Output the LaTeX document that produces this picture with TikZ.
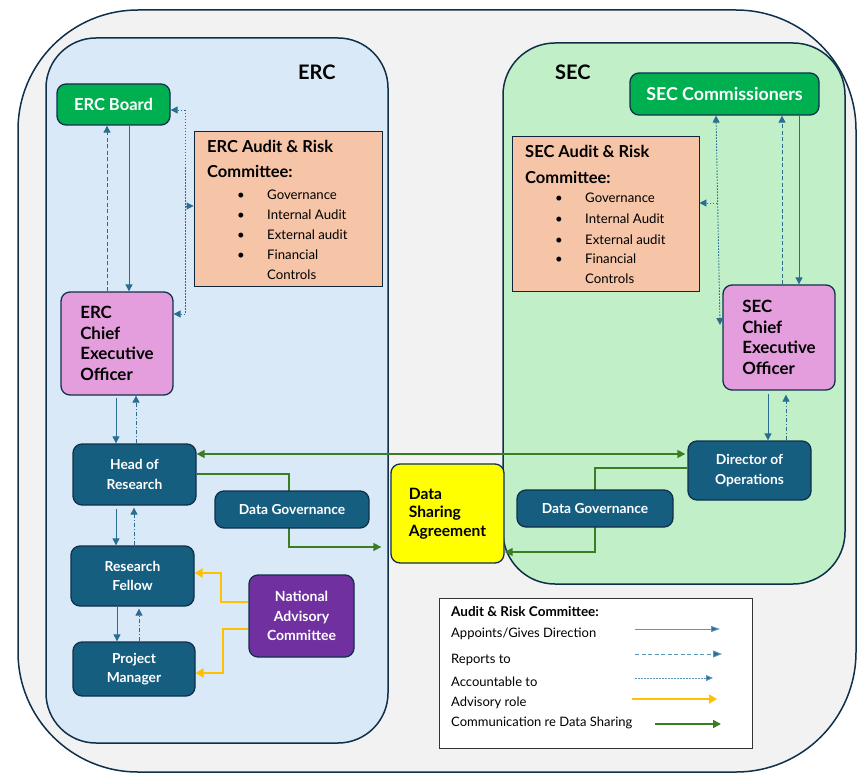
\documentclass[tikz,border=0pt]{standalone}
\usepackage{fontspec}
\setmainfont{Lato}
\usetikzlibrary{arrows.meta,calc}
\definecolor{bggray}{HTML}{F2F2F2}
\definecolor{outl}{HTML}{10304A}
\definecolor{ercfill}{HTML}{DAE9F7}
\definecolor{secfill}{HTML}{C1F0C8}
\definecolor{boardg}{HTML}{00B050}
\definecolor{salmon}{HTML}{F6C5A8}
\definecolor{pinkc}{HTML}{E59EDD}
\definecolor{tealc}{HTML}{165E80}
\definecolor{purplec}{HTML}{7030A0}
\definecolor{yellowc}{HTML}{FFFF00}
\definecolor{arrowc}{HTML}{2A6D90}
\definecolor{legarrow}{HTML}{5B98B8}
\definecolor{greenc}{HTML}{3B7D23}
\definecolor{orangec}{HTML}{FFC000}
\newcommand\myfs[2]{\fontsize{#1}{#2}\selectfont}
\pgfdeclarelayer{bg}
\pgfdeclarelayer{mid}
\pgfsetlayers{bg,mid,main}
\begin{document}
\begin{tikzpicture}[x=1pt,y=-1pt,
  orgbox/.style={draw=outl, line width=1.3pt, rounded corners=9pt, inner sep=0pt},
  tealbox/.style={orgbox, fill=tealc, text=white, font=\myfs{13.8}{19.5}\bfseries, align=center},
  ceobox/.style={orgbox, fill=pinkc, text=black, font=\myfs{16.9}{20.7}\bfseries, align=left},
  auditbox/.style={draw=outl!80!black, line width=0.9pt, fill=salmon, inner sep=0pt},
  lbl/.style={anchor=base west, inner sep=0pt},
  atitle/.style={lbl, font=\myfs{16.5}{18}\bfseries},
  aitem/.style={lbl, font=\myfs{13.2}{14}},
  legtext/.style={lbl, font=\myfs{13}{14}},
  tip/.style={-{Triangle[length=7pt,width=7pt]}},
  appoint/.style={draw=arrowc, line width=0.9pt, tip},
  report/.style={appoint, dash pattern=on 4pt off 2.5pt},
  reportdd/.style={appoint, dash pattern=on 4pt off 2pt on 1pt off 2pt},
  account/.style={appoint, dash pattern=on 1.5pt off 1.5pt},
  accline/.style={draw=arrowc, line width=0.9pt, dash pattern=on 1.5pt off 1.5pt},
  advis/.style={draw=orangec, line width=2.2pt, -{Triangle[length=8pt,width=9pt]}},
  comm/.style={draw=greenc, line width=1.5pt, -{Triangle[length=8pt,width=8pt]}},
  commline/.style={draw=greenc, line width=1.5pt}
]
\useasboundingbox (0,0) rectangle (857,773);
\begin{pgfonlayer}{bg}
\fill[white] (0,0) rectangle (857,773);
\draw[fill=bggray, draw=outl, line width=1.5pt, rounded corners=120pt] (18,10) rectangle (856,772);
\draw[fill=ercfill, draw=outl, line width=1.5pt, rounded corners=50pt] (46,38) rectangle (388,743);
\draw[fill=secfill, draw=outl, line width=1.5pt, rounded corners=52pt] (503,43) rectangle (845,584);
\end{pgfonlayer}

% container labels
\node[lbl, font=\myfs{20}{22}\bfseries] (ERClbl) at (298,80) {ERC};
\node[lbl, font=\myfs{20}{22}\bfseries] (SEClbl) at (555,80) {SEC};

% ERC side
\node[orgbox, fill=boardg, text=white, font=\myfs{16.5}{18}\bfseries, minimum width=113pt, minimum height=41pt] (ERCBoard) at (113.5,104.5) {ERC Board};
\node[auditbox, minimum width=188pt, minimum height=155pt] (ERCAudit) at (288,208.5) {};
\node[atitle] (ERCat1) at (207,153) {ERC Audit \& Risk};
\node[atitle] (ERCat2) at (207,178) {Committee:};
\node[aitem] (ERCb1) at (237,199) {\textbullet};
\node[aitem] (ERCb2) at (237,219) {\textbullet};
\node[aitem] (ERCb3) at (237,239) {\textbullet};
\node[aitem] (ERCb4) at (237,259) {\textbullet};
\node[aitem] (ERCi1) at (267,199) {Governance};
\node[aitem] (ERCi2) at (267,219) {Internal Audit};
\node[aitem] (ERCi3) at (267,239) {External audit};
\node[aitem] (ERCi4) at (267,259) {Financial};
\node[aitem] (ERCi5) at (267,279) {Controls};
\node[ceobox, minimum width=112pt, minimum height=103pt] (ERCCEO) at (117,343.5) {ERC\\Chief\\Executive\\Officer};
\node[tealbox, minimum width=123pt, minimum height=61pt] (HoR) at (134.5,474.5) {Head of\\Research};
\node[tealbox, minimum width=123pt, minimum height=60pt] (RF) at (132.5,576) {Research\\Fellow};
\node[tealbox, minimum width=122pt, minimum height=54pt] (PM) at (134,669) {Project\\Manager};
\node[orgbox, fill=purplec, text=white, font=\myfs{14}{19.5}\bfseries, align=center, minimum width=105pt, minimum height=82pt] (NAC) at (301.5,616) {National\\Advisory\\Committee};
\node[tealbox, minimum width=154pt, minimum height=37pt] (ERCDG) at (292,509.5) {Data Governance};

% centre
\node[orgbox, fill=yellowc, text=black, font=\myfs{15.6}{18.5}\bfseries, align=left, minimum width=113pt, minimum height=99pt] (DSA) at (447.5,513.5) {Data\\Sharing\\Agreement};

% SEC side
\node[orgbox, fill=boardg, text=white, font=\myfs{17.8}{18}\bfseries, minimum width=189pt, minimum height=42pt] (SECComm) at (724.5,94) {SEC Commissioners};
\node[auditbox, minimum width=187pt, minimum height=155pt] (SECAudit) at (605.5,213.5) {};
\node[atitle] (SECat1) at (525,158) {SEC Audit \& Risk};
\node[atitle] (SECat2) at (525,183) {Committee:};
\node[aitem] (SECb1) at (555,203) {\textbullet};
\node[aitem] (SECb2) at (555,223) {\textbullet};
\node[aitem] (SECb3) at (555,244) {\textbullet};
\node[aitem] (SECb4) at (555,263) {\textbullet};
\node[aitem] (SECi1) at (585,203) {Governance};
\node[aitem] (SECi2) at (585,223) {Internal Audit};
\node[aitem] (SECi3) at (585,244) {External audit};
\node[aitem] (SECi4) at (585,263) {Financial};
\node[aitem] (SECi5) at (585,283) {Controls};
\node[ceobox, minimum width=112pt, minimum height=105pt] (SECCEO) at (779,337.5) {SEC\\Chief\\Executive\\Officer};
\node[tealbox, minimum width=123pt, minimum height=59pt] (DirOps) at (749.5,470.5) {Director of\\Operations};
\node[tealbox, minimum width=156pt, minimum height=37pt] (SECDG) at (595,508.5) {Data Governance};

% ERC arrows
\draw[appoint] (129,0 |- ERCBoard.south) -- (129,0 |- ERCCEO.north);
\draw[report] (107,0 |- ERCCEO.north) -- (107,0 |- ERCBoard.south);
\coordinate (ea1) at (185,110);
\coordinate (ea2) at (185,206);
\coordinate (ea3) at (185,314);
\draw[accline] (ea1) -- (ea3);
\draw[account] (ea1) -- (ERCBoard.east |- ea1);
\draw[account] (ea2) -- (ERCAudit.west |- ea2);
\draw[account] (ea3) -- (ERCCEO.east |- ea3);
\draw[appoint] ([yshift=-2pt]116,0 |- ERCCEO.south) -- (116,0 |- HoR.north);
\draw[reportdd] (136,0 |- HoR.north) -- (136,0 |- ERCCEO.south);
\draw[appoint] ([yshift=-3pt]116,0 |- HoR.south) -- (116,0 |- RF.north);
\draw[reportdd] (134,0 |- RF.north) -- ([yshift=-2pt]134,0 |- HoR.south);
\draw[appoint] (117,0 |- RF.south) -- (117,0 |- PM.north);
\draw[reportdd] (139,0 |- PM.north) -- ([yshift=-2pt]139,0 |- RF.south);

% advisory
\draw[advis] (NAC.west |- 0,602) -- (221,602) -- (221,573) -- (RF.east |- 0,573);
\draw[advis] (NAC.west |- 0,629) -- (223,629) -- (223,673) -- (PM.east |- 0,673);

% SEC arrows
\draw[appoint] (799,0 |- SECComm.south) -- (799,0 |- SECCEO.north);
\draw[report] (782,0 |- SECCEO.north) -- (782,0 |- SECComm.south);
\coordinate (sa1) at (716,0 |- SECComm.south);
\coordinate (sa2) at (717,203);
\coordinate (sa3) at (720,325);
\draw[accline, {Triangle[length=7pt,width=7pt]}-{Triangle[length=7pt,width=7pt]}] (sa1) -- (sa3);
\draw[account] (sa2) -- (SECAudit.east |- sa2);
\draw[appoint] ([yshift=-3pt]768,0 |- SECCEO.south) -- (768,0 |- DirOps.north);
\draw[reportdd] (786,0 |- DirOps.north) -- ([yshift=-4pt]786,0 |- SECCEO.south);

% data sharing communication
\draw[commline, {Triangle[length=8pt,width=8pt]}-{Triangle[length=8pt,width=8pt]}] (HoR.east |- 0,454) -- ([xshift=-2pt]DirOps.west |- 0,454);
\begin{pgfonlayer}{mid}
\draw[comm, shorten >=9pt] (HoR.east |- 0,474) -- (289,474) -- (289,547) -- (DSA.west |- 0,547);
\draw[comm] (DirOps.west |- 0,468) -- (595,468) -- (595,552) -- (DSA.east |- 0,552);
\end{pgfonlayer}

% legend
\node[draw=black!80, line width=0.9pt, fill=white, minimum width=313pt, minimum height=150pt, inner sep=0pt] (Legend) at (595.5,673) {};
\node[lbl, font=\myfs{13.5}{14}\bfseries] (L0) at (451,616) {Audit \& Risk Committee:};
\node[legtext] (L1) at (451,637) {Appoints/Gives Direction};
\node[legtext] (L2) at (451,663) {Reports to};
\node[legtext] (L3) at (451,686) {Accountable to};
\node[legtext] (L4) at (451,706) {Advisory role};
\node[legtext] (L5) at (451,726) {Communication re Data Sharing};
\coordinate (la1) at (635,629); \coordinate (lb1) at (720,629);
\coordinate (la2) at (635,654); \coordinate (lb2) at (722,654);
\coordinate (la3) at (635,678); \coordinate (lb3) at (713,678);
\coordinate (la4) at (632,699); \coordinate (lb4) at (717,699);
\coordinate (la5) at (655,724); \coordinate (lb5) at (721,724);
\draw[appoint, draw=legarrow, -{Triangle[length=9pt,width=6pt,fill=arrowc]}] (la1) -- (lb1);
\draw[report, draw=legarrow, -{Triangle[length=9pt,width=7pt,fill=arrowc]}] (la2) -- (lb2);
\draw[account, draw=legarrow, -{Triangle[length=7pt,width=6pt,fill=arrowc]}] (la3) -- (lb3);
\draw[advis] (la4) -- (lb4);
\draw[comm] (la5) -- (lb5);
\end{tikzpicture}
\end{document}
